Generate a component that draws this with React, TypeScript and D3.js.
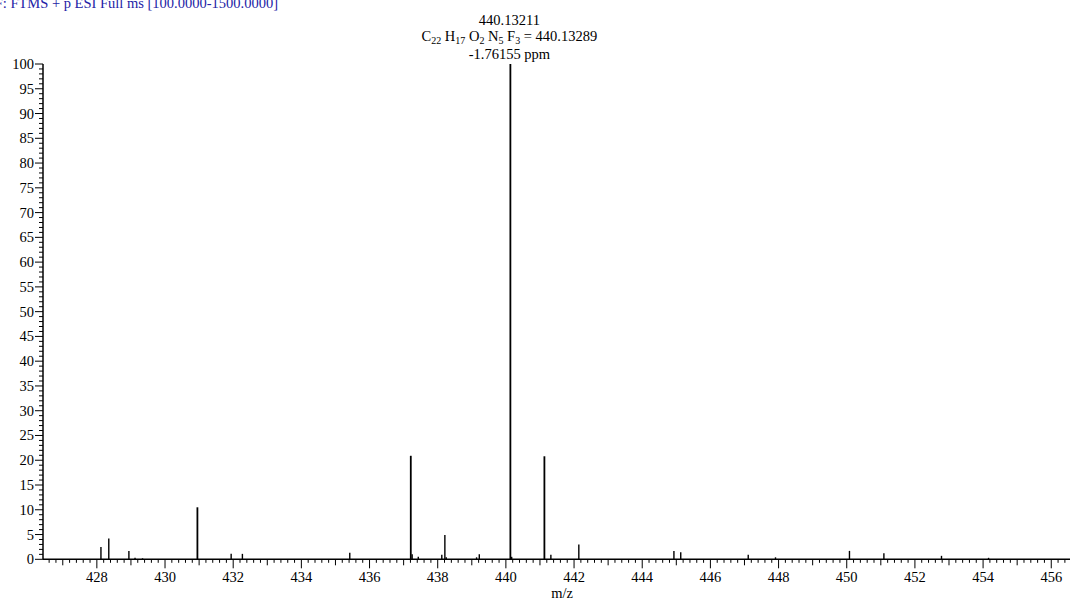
import { useEffect, useRef } from 'react';
import * as d3 from 'd3';

// peak list (m/z, relative abundance)
const peakMz = [
  428.12, 428.35, 428.94, 429.12, 429.34, 430.95, 431.94, 432.27, 435.42,
  437.21, 437.25, 437.43, 438.12, 438.21, 438.25, 439.14, 439.22,
  440.132, 440.17, 441.13, 441.32, 442.14, 444.93, 445.13, 447.11, 447.91,
  450.08, 451.09, 452.78, 454.16,
];
const peakInt = [
  2.5, 4.2, 1.7, 0.3, 0.2, 10.5, 1.1, 1.1, 1.3,
  20.9, 1.0, 0.5, 0.9, 4.9, 0.4, 0.4, 1.0,
  100, 0.5, 20.8, 0.9, 3.0, 1.7, 1.4, 0.9, 0.4,
  1.7, 1.2, 0.7, 0.3,
];

const title = 'F: FTMS + p ESI Full ms [100.0000-1500.0000]';
const peakLabel = '440.13211';
const formula: [string, string][] = [['C', '22'], [' H', '17'], [' O', '2'], [' N', '5'], [' F', '3']];
const formulaMass = ' = 440.13289';
const ppmLabel = '-1.76155 ppm';
const xTitle = 'm/z';

export default function App() {
  const svgRef = useRef<SVGSVGElement>(null);

  useEffect(() => {
    const svg = d3.select(svgRef.current);
    svg.selectAll('*').remove();

    const W = 1070, H = 604;
    const fs = 14.5;
    svg.attr('width', W).attr('height', H)
      .attr('font-family', '"Liberation Serif", "Times New Roman", serif');

    const x = d3.scaleLinear().domain([426.42, 456.55]).range([43, 1070]);
    const y = d3.scaleLinear().domain([0, 100]).range([559.3, 64]);
    const [x0, x1] = x.range();

    // title, cut at the left edge as in the original
    svg.append('text')
      .attr('x', 278).attr('y', 8)
      .attr('text-anchor', 'end')
      .attr('font-size', fs).attr('fill', '#2323a6')
      .text(title);

    // peaks
    peakMz.forEach((mz, i) => {
      svg.append('line')
        .attr('x1', x(mz)).attr('x2', x(mz))
        .attr('y1', y(0)).attr('y2', y(peakInt[i]))
        .attr('stroke', '#000')
        .attr('stroke-width', peakInt[i] > 5 ? 1.8 : 1.4);
    });

    // x axis
    svg.append('line')
      .attr('x1', x0).attr('x2', x1)
      .attr('y1', y(0)).attr('y2', y(0))
      .attr('stroke', '#000').attr('stroke-width', 1.5);
    const xStart = Math.ceil(426.42 * 5), xEnd = Math.floor(456.55 * 5);
    d3.range(xStart, xEnd + 1).forEach(k => {
      const v = k / 5;
      const isInt = k % 5 === 0;
      const isEven = isInt && (k / 5) % 2 === 0;
      const len = isEven ? 9 : isInt ? 6 : 3.5;
      svg.append('line')
        .attr('x1', x(v)).attr('x2', x(v))
        .attr('y1', y(0)).attr('y2', y(0) + len)
        .attr('stroke', '#000').attr('stroke-width', 1);
      if (isEven) {
        svg.append('text')
          .attr('x', x(v)).attr('y', 582)
          .attr('text-anchor', 'middle')
          .attr('font-size', fs).attr('fill', '#000')
          .text(String(v));
      }
    });
    svg.append('text')
      .attr('x', 562).attr('y', 598)
      .attr('text-anchor', 'middle')
      .attr('font-size', fs).attr('fill', '#000')
      .text(xTitle);

    // y axis
    svg.append('line')
      .attr('x1', x0).attr('x2', x0)
      .attr('y1', y(0)).attr('y2', y(100))
      .attr('stroke', '#000').attr('stroke-width', 1.5);
    d3.range(0, 101).forEach(v => {
      const major = v % 5 === 0;
      svg.append('line')
        .attr('x1', x0 - (major ? 8 : 4)).attr('x2', x0)
        .attr('y1', y(v)).attr('y2', y(v))
        .attr('stroke', '#000').attr('stroke-width', 1);
      if (major) {
        svg.append('text')
          .attr('x', x0 - 9).attr('y', y(v) + 5)
          .attr('text-anchor', 'end')
          .attr('font-size', fs).attr('fill', '#000')
          .text(String(v));
      }
    });

    // base peak annotation
    const ax = x(440.132) - 1;
    svg.append('text')
      .attr('x', ax).attr('y', 25)
      .attr('text-anchor', 'middle')
      .attr('font-size', fs).attr('fill', '#000')
      .text(peakLabel);
    const sub = 2.5;
    const ft = svg.append('text')
      .attr('x', ax).attr('y', 41)
      .attr('text-anchor', 'middle')
      .attr('font-size', fs).attr('fill', '#000');
    formula.forEach(([el, n], i) => {
      ft.append('tspan').attr('dy', i === 0 ? 0 : -sub).text(el);
      ft.append('tspan').attr('dy', sub).attr('font-size', 10).text(n);
    });
    ft.append('tspan').attr('dy', -sub).text(formulaMass);
    svg.append('text')
      .attr('x', ax).attr('y', 59)
      .attr('text-anchor', 'middle')
      .attr('font-size', fs).attr('fill', '#000')
      .text(ppmLabel);
  }, []);

  return (
    <svg
      ref={svgRef}
      style={{ position: 'absolute', left: 0, top: 0, background: '#fff' }}
      role="img"
      aria-label="Mass spectrum"
    />
  );
}
